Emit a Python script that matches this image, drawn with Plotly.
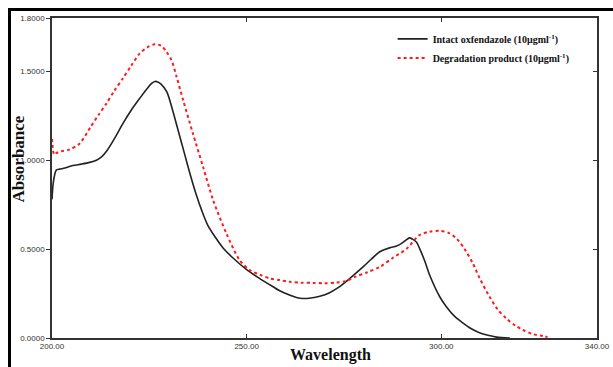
import plotly.graph_objects as go

# ---- data ----
wl_intact = [200.0, 200.3, 200.7, 201.1, 202.0, 203.0, 205.4, 207.5, 209.7, 211.4, 212.8, 214.0,
             216.0, 218.2, 220.3, 222.5, 224.5, 225.6, 226.4, 227.2, 228.0, 229.5, 231.0, 232.5,
             234.0, 235.5, 237.0, 238.5, 240.0, 242.0, 244.0, 246.5, 250.0, 253.0, 256.8, 258.5,
             261.0, 262.8, 264.5, 266.5, 268.8, 271.3, 273.5, 276.0, 279.9, 282.0, 284.2, 286.7,
             288.5, 290.0, 291.2, 291.9, 292.6, 293.6, 294.5, 295.8, 297.0, 299.6, 301.3, 303.5,
             305.6, 307.5, 309.8, 312.0, 314.2, 317.6]
abs_intact = [0.78, 0.87, 0.92, 0.944, 0.95, 0.955, 0.97, 0.978, 0.988, 1.0, 1.02, 1.05,
              1.12, 1.206, 1.28, 1.347, 1.405, 1.432, 1.443, 1.44, 1.428, 1.385, 1.28, 1.16,
              1.04, 0.92, 0.81, 0.715, 0.635, 0.565, 0.505, 0.45, 0.385, 0.34, 0.288, 0.266,
              0.242, 0.228, 0.222, 0.225, 0.235, 0.255, 0.283, 0.326, 0.40, 0.443, 0.485, 0.507,
              0.517, 0.535, 0.555, 0.563, 0.556, 0.54, 0.50, 0.43, 0.354, 0.232, 0.176, 0.12,
              0.084, 0.055, 0.03, 0.015, 0.005, 0.0]

wl_degr = [200.0, 200.2, 200.4, 200.7, 201.1, 202.4, 204.5, 207.1, 210.0, 212.0, 214.0, 216.0,
           218.2, 220.3, 222.5, 224.5, 226.4, 228.0, 229.4, 230.7, 232.0, 233.7, 236.2, 238.8,
           241.4, 244.8, 248.2, 250.8, 253.5, 256.0, 258.5, 261.0, 264.0, 267.0, 270.0, 273.0,
           275.6, 278.0, 281.0, 284.2, 287.5, 291.0, 294.4, 297.0, 299.6, 302.0, 303.9, 306.0,
           308.1, 310.0, 312.4, 314.5, 316.7, 319.0, 321.0, 323.5, 326.1, 327.3]
abs_degr = [1.12, 1.07, 1.04, 1.03, 1.04, 1.05, 1.06, 1.094, 1.19, 1.256, 1.32, 1.39,
            1.46, 1.53, 1.60, 1.635, 1.652, 1.645, 1.61, 1.562, 1.47, 1.337, 1.15, 0.963,
            0.775, 0.588, 0.438, 0.382, 0.355, 0.335, 0.326, 0.316, 0.311, 0.31, 0.308, 0.312,
            0.32, 0.345, 0.37, 0.40, 0.45, 0.50, 0.579, 0.598, 0.603, 0.59, 0.56, 0.50,
            0.42, 0.33, 0.232, 0.16, 0.11, 0.07, 0.045, 0.022, 0.011, 0.005]

x_ticks = [200, 250, 300, 340]
y_ticks = [0.0, 0.5, 1.0, 1.5, 1.8]

name_intact = "<b>Intact oxfendazole (10μgml<sup>-1</sup>)</b>"
name_degr = "<b>Degradation product (10μgml<sup>-1</sup>)</b>"

fig = go.Figure()
fig.add_trace(go.Scatter(x=wl_intact, y=abs_intact, mode="lines", name=name_intact,
                         line=dict(color="#222222", width=1.6, shape="spline", smoothing=0.8)))
fig.add_trace(go.Scatter(x=wl_degr, y=abs_degr, mode="lines", name=name_degr,
                         line=dict(color="#ff1a1a", width=2, dash="dot", shape="spline", smoothing=0.8)))
# empty trace to activate the right-hand tick axis
fig.add_trace(go.Scatter(x=[], y=[], yaxis="y2", showlegend=False, hoverinfo="skip"))

tickfont = dict(family="Liberation Sans, Arial", size=8, color="#333333")

fig.update_layout(
    width=613, height=367,
    margin=dict(l=52, r=16, t=18, b=29, autoexpand=False),
    paper_bgcolor="white", plot_bgcolor="white",
    showlegend=True,
    legend=dict(x=0.625, y=0.98, xanchor="left", yanchor="top",
                font=dict(family="Liberation Serif", size=10, color="#111111"),
                bgcolor="rgba(0,0,0,0)", itemwidth=30),
    xaxis=dict(range=[200, 340], tickvals=x_ticks, tickformat=".2f",
               ticks="inside", ticklen=4, tickcolor="#333", showline=True,
               linecolor="#333", linewidth=1.5, mirror="ticks", showgrid=False,
               zeroline=False, tickfont=tickfont, automargin=False),
    yaxis=dict(range=[0, 1.8], tickvals=y_ticks, tickformat=".4f",
               ticks="outside", ticklen=4, tickcolor="#333", showline=True,
               linecolor="#333", linewidth=1.5, mirror=True, showgrid=False,
               zeroline=False, tickfont=tickfont, automargin=False),
    yaxis2=dict(range=[0, 1.8], overlaying="y", side="right", tickvals=y_ticks,
                ticks="inside", ticklen=4, tickcolor="#333", showticklabels=False,
                showline=False, showgrid=False, zeroline=False, automargin=False),
)

# axis titles
fig.add_annotation(text="<b>Wavelength</b>", xref="paper", yref="paper",
                   x=(330 - 52) / 545, y=-(355 - 338) / 320, showarrow=False,
                   font=dict(family="Liberation Serif", size=16, color="#111"),
                   xanchor="center", yanchor="middle")
fig.add_annotation(text="<b>Absorbance</b>", xref="paper", yref="paper",
                   x=-(52 - 17.5) / 545, y=1 - (159 - 18) / 320, showarrow=False, textangle=-90,
                   font=dict(family="Liberation Serif", size=17, color="#111"),
                   xanchor="center", yanchor="middle")

# outer frame (partially cropped in the reference)
fig.add_shape(type="rect", xref="paper", yref="paper",
              x0=-(52 - 9.5) / 545, x1=1.06, y0=-0.15, y1=1 + (18 - 9.5) / 320,
              line=dict(color="black", width=3), fillcolor="rgba(0,0,0,0)", layer="above")

fig.write_html("out.html")
